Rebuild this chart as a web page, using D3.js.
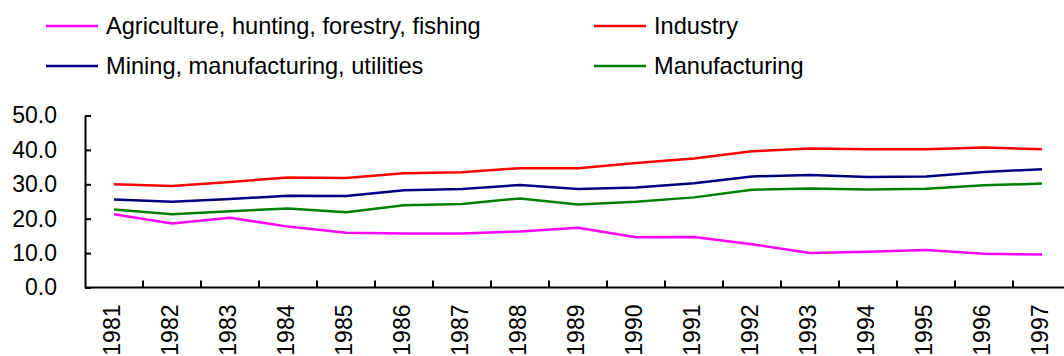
<!DOCTYPE html>
<html>
<head>
<meta charset="utf-8">
<script src="https://cdn.jsdelivr.net/npm/d3@7"></script>
<style>
  html, body { margin: 0; padding: 0; background: #fff; }
  svg { display: block; }
  text { font-family: "Liberation Sans", Arial, sans-serif; fill: #000; }
</style>
</head>
<body>
<svg id="chart" width="1064" height="356"></svg>
<script>
// Share of GDP by sector, per cent
const years = ["1981","1982","1983","1984","1985","1986","1987","1988","1989",
               "1990","1991","1992","1993","1994","1995","1996","1997"];
const agriculture   = [21.3,18.6,20.3,17.7,15.9,15.7,15.7,16.3,17.4,14.6,14.7,12.6,10.0,10.4,10.9,9.8,9.6];
const industry      = [30.0,29.5,30.7,32.0,31.8,33.2,33.5,34.7,34.7,36.2,37.5,39.6,40.4,40.2,40.2,40.7,40.2];
const mining        = [25.6,24.9,25.7,26.7,26.6,28.3,28.6,29.8,28.6,29.1,30.3,32.3,32.7,32.1,32.3,33.6,34.4];
const manufacturing = [22.7,21.3,22.2,23.0,21.9,23.9,24.3,25.9,24.1,24.9,26.2,28.4,28.8,28.5,28.7,29.7,30.2];
const yTicks = [0, 10, 20, 30, 40, 50];

const seriesNames  = ["Agriculture, hunting, forestry, fishing", "Industry",
                      "Mining, manufacturing, utilities", "Manufacturing"];
const seriesValues = [agriculture, industry, mining, manufacturing];
const seriesColors = ["#ff00ff", "#ff0000", "#000080", "#008000"];

const svg = d3.select("#chart");
const fontSize = 23;
const legendFontSize = 23.6;

const x = d3.scaleBand().domain(years).range([85, 1071]).padding(0);
const y = d3.scaleLinear().domain([0, 50]).range([287.5, 115.5]);

// Y axis: ticks pointing into the plot
const yAxis = d3.axisLeft(y)
  .tickValues(yTicks)
  .tickFormat(d3.format(".1f"))
  .tickSizeInner(-6)
  .tickSizeOuter(0)
  .tickPadding(28);
const gy = svg.append("g").attr("transform", "translate(85,0)").call(yAxis);
gy.select(".domain").attr("stroke", "#000").attr("stroke-width", 2);
gy.selectAll(".tick line").attr("stroke", "#000").attr("stroke-width", 2);
gy.selectAll(".tick text").style("font-size", fontSize + "px").attr("fill", "#000");

// X axis: line, category boundary ticks, rotated year labels
const gx = svg.append("g");
gx.append("line")
  .attr("x1", x.range()[0]).attr("x2", x.range()[1])
  .attr("y1", y(0)).attr("y2", y(0))
  .attr("stroke", "#000").attr("stroke-width", 2);
gx.selectAll("line.tick")
  .data(years.slice(1))
  .join("line")
  .attr("class", "tick")
  .attr("x1", d => x(d)).attr("x2", d => x(d))
  .attr("y1", y(0)).attr("y2", y(0) - 7)
  .attr("stroke", "#000").attr("stroke-width", 2);
gx.selectAll("text")
  .data(years)
  .join("text")
  .attr("transform", d => `translate(${x(d) + x.bandwidth() / 2 - 2},304.5) rotate(-90)`)
  .attr("text-anchor", "end")
  .attr("dy", "0.35em")
  .style("font-size", fontSize + "px")
  .text(d => d);

// Series lines
const line = d3.line()
  .x((d, i) => x(years[i]) + x.bandwidth() / 2)
  .y(d => y(d));
svg.append("g")
  .selectAll("path")
  .data(seriesValues)
  .join("path")
  .attr("d", d => line(d))
  .attr("fill", "none")
  .attr("stroke", (d, i) => seriesColors[i])
  .attr("stroke-width", 2.5)
  .attr("stroke-linejoin", "round");

// Legend, two columns
const legendPos = [[46, 26], [594, 26], [46, 66], [594, 66]];
const legend = svg.append("g")
  .selectAll("g")
  .data(seriesNames)
  .join("g")
  .attr("transform", (d, i) => `translate(${legendPos[i][0]},${legendPos[i][1]})`);
legend.append("line")
  .attr("x1", 0).attr("x2", 52)
  .attr("stroke", (d, i) => seriesColors[i])
  .attr("stroke-width", 2.5);
legend.append("text")
  .attr("x", 60)
  .attr("dy", "0.35em")
  .style("font-size", legendFontSize + "px")
  .text(d => d);
</script>
</body>
</html>
